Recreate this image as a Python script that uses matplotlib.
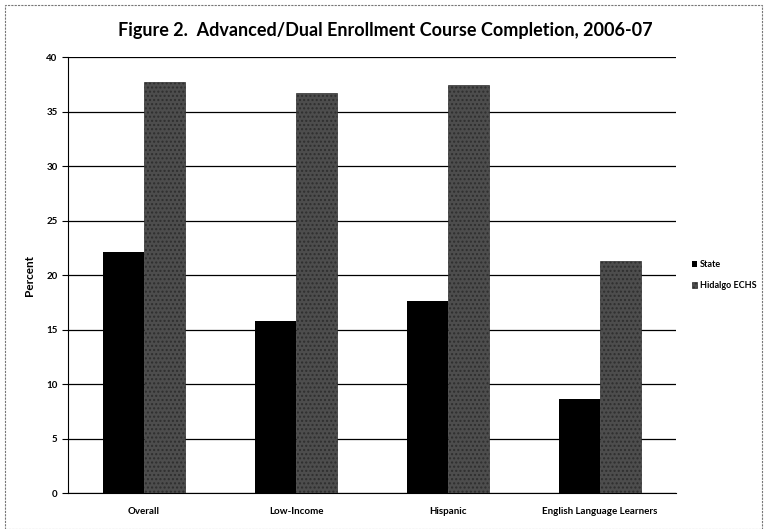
import matplotlib
matplotlib.use('Agg')
import matplotlib.pyplot as plt
import numpy as np
from matplotlib.patches import Rectangle

categories = ['Overall', 'Low-Income', 'Hispanic', 'English Language Learners']
state = [22.1, 15.8, 17.6, 8.6]
hidalgo = [37.7, 36.7, 37.4, 21.3]
series_names = ['State', 'Hidalgo ECHS']

plt.rcParams['font.family'] = ['Lato', 'DejaVu Sans']
plt.rcParams['font.weight'] = 'bold'

fig = plt.figure(figsize=(7.64, 5.29), dpi=100)
ax = fig.add_axes([0.089, 0.068, 0.796, 0.824])

x = np.arange(len(categories))
w = 0.27
ax.bar(x - w / 2, state, w, color='black', label=series_names[0], zorder=3)
ax.bar(x + w / 2, hidalgo, w, color='#4d4d4d', edgecolor='#2e2e2e',
       linewidth=0.5, hatch='....', label=series_names[1], zorder=3)

ax.set_xlim(-0.5, len(categories) - 0.5)
ax.set_ylim(0, 40)
ax.set_yticks(range(0, 41, 5))
ax.yaxis.grid(True, color='black', linewidth=0.9, zorder=0)
ax.set_axisbelow(True)
ax.set_xticks(x)
ax.set_xticklabels(categories, fontsize=7, fontweight='bold')
ax.tick_params(axis='y', labelsize=7, length=4, width=0.8)
ax.tick_params(axis='x', length=0, pad=10)
for s in ['top', 'right']:
    ax.spines[s].set_visible(False)
ax.spines['left'].set_linewidth(0.8)
ax.spines['bottom'].set_linewidth(0.8)
ax.set_ylabel('Percent', fontsize=8.5, fontweight='bold', labelpad=8)

fig.text(0.504, 0.943, 'Figure 2.  Advanced/Dual Enrollment Course Completion, 2006-07',
         ha='center', va='center', fontsize=13, fontweight='bold')

ax.legend(loc='center left', bbox_to_anchor=(1.015, 0.5), frameon=False,
          fontsize=6.5, handlelength=0.6, handleheight=0.6, handletextpad=0.3,
          labelspacing=1.3, borderaxespad=0.3)

fig.patches.append(Rectangle((0.007, 0.0), 0.99, 0.99, transform=fig.transFigure,
                             fill=False, edgecolor='#777777', linestyle=(0, (2, 1)),
                             linewidth=0.8))

fig.savefig('out.png', dpi=100)
